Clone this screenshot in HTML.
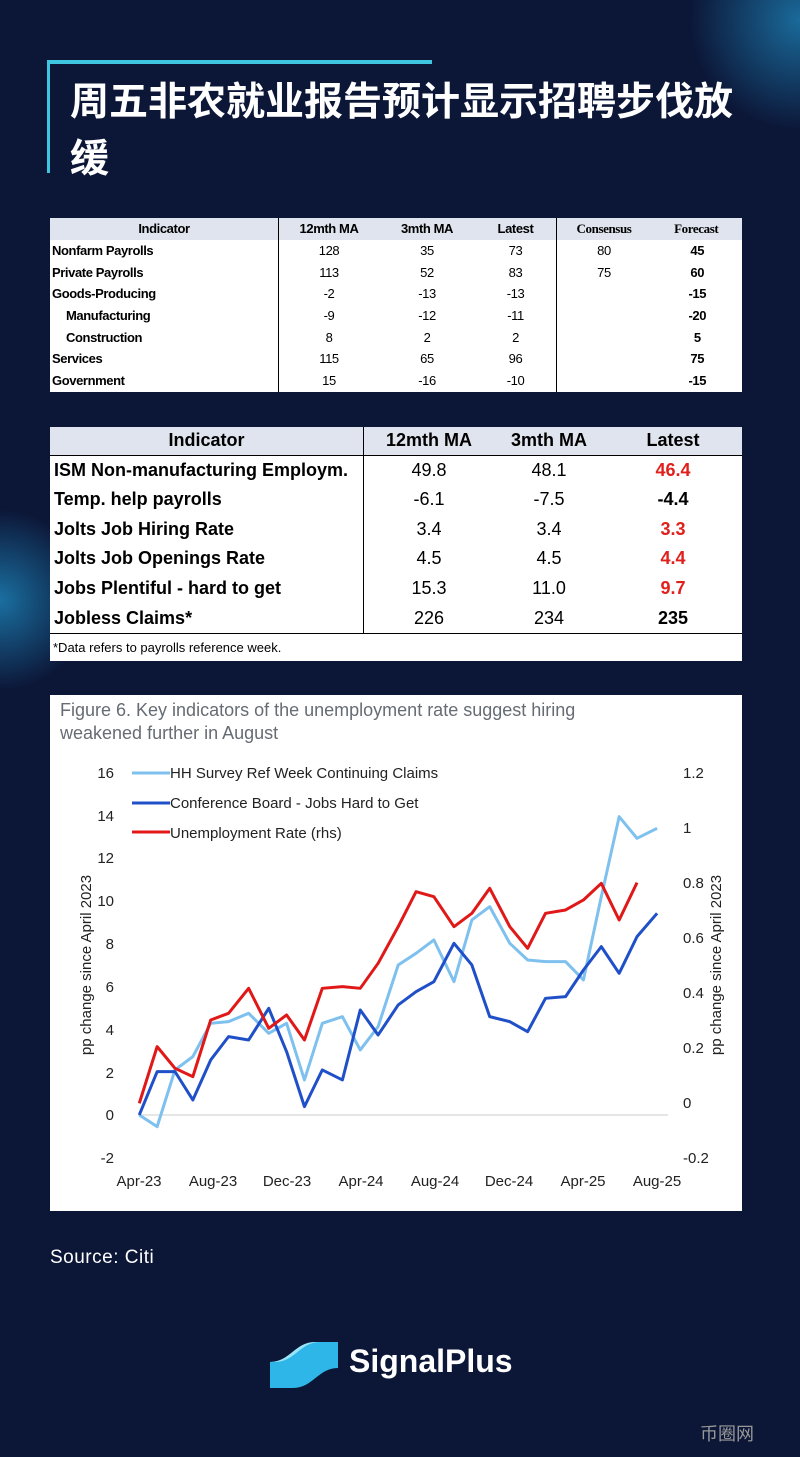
<!DOCTYPE html>
<html><head><meta charset="utf-8"><style>
body{margin:0;width:800px;height:1457px;overflow:hidden;background:radial-gradient(circle at 0px 600px,#1a6fa0 0,rgba(14,29,69,0) 90px),radial-gradient(circle at 800px 20px,#1a6a9a 0,rgba(14,29,69,0) 110px),#0c1738;font-family:"Liberation Sans","Noto Sans CJK SC",sans-serif;position:relative}
.a{position:absolute}
table{border-collapse:collapse;background:#fff;position:absolute;left:50px;width:692px;font-family:"Liberation Sans",sans-serif;color:#000}
td{padding:0;font-size:13px;font-weight:bold;white-space:nowrap}
.t1 td{height:21.7px;font-weight:normal;font-size:13px;letter-spacing:-0.4px}
.t1 td.b,.t1 tr.h td{font-weight:bold}
.t1 td.b{padding-left:2px}
.c{text-align:center}
</style></head><body>
<div class="a" style="left:48px;top:60px;width:384px;height:4px;background:#3ec6e0"></div>
<div class="a" style="left:47px;top:60px;width:3px;height:113px;background:#3ec6e0"></div>
<div class="a" style="left:70px;top:74px;color:#fff;font-size:39px;font-weight:bold;line-height:57px;width:720px;white-space:nowrap">周五非农就业报告预计显示招聘步伐放<br>缓</div>

<table class="t1" style="top:218px;height:172px">
<tr class="h" style="background:#dfe4ee"><td class="c" style="width:228px;border-right:1px solid #000">Indicator</td><td class="c" style="width:100px">12mth MA</td><td class="c" style="width:96px">3mth MA</td><td class="c" style="width:81px;border-right:1px solid #000">Latest</td><td class="c" style="width:94px;font-family:'Liberation Serif'">Consensus</td><td class="c" style="font-family:'Liberation Serif'">Forecast</td></tr>
<tr><td class="b" style="border-right:1px solid #000">Nonfarm Payrolls</td><td class="c">128</td><td class="c">35</td><td class="c" style="border-right:1px solid #000">73</td><td class="c">80</td><td class="c b">45</td></tr>
<tr><td class="b" style="border-right:1px solid #000">Private Payrolls</td><td class="c">113</td><td class="c">52</td><td class="c" style="border-right:1px solid #000">83</td><td class="c">75</td><td class="c b">60</td></tr>
<tr><td class="b" style="border-right:1px solid #000">Goods-Producing</td><td class="c">-2</td><td class="c">-13</td><td class="c" style="border-right:1px solid #000">-13</td><td></td><td class="c b">-15</td></tr>
<tr><td class="b" style="border-right:1px solid #000;padding-left:16px">Manufacturing</td><td class="c">-9</td><td class="c">-12</td><td class="c" style="border-right:1px solid #000">-11</td><td></td><td class="c b">-20</td></tr>
<tr><td class="b" style="border-right:1px solid #000;padding-left:16px">Construction</td><td class="c">8</td><td class="c">2</td><td class="c" style="border-right:1px solid #000">2</td><td></td><td class="c b">5</td></tr>
<tr><td class="b" style="border-right:1px solid #000">Services</td><td class="c">115</td><td class="c">65</td><td class="c" style="border-right:1px solid #000">96</td><td></td><td class="c b">75</td></tr>
<tr><td class="b" style="border-right:1px solid #000">Government</td><td class="c">15</td><td class="c">-16</td><td class="c" style="border-right:1px solid #000">-10</td><td></td><td class="c b">-15</td></tr>
</table>

<table style="top:427px;height:234px;font-size:18px">
<tr style="background:#dfe4ee;height:28px"><td class="c" style="width:313px;font-size:18px;border-right:1px solid #000">Indicator</td><td class="c" style="width:130px;font-size:18px">12mth MA</td><td class="c" style="width:110px;font-size:18px">3mth MA</td><td class="c" style="font-size:18px">Latest</td></tr>
<tr style="height:29.7px"><td style="font-size:18px;padding-left:4px;border-right:1px solid #000;border-top:1px solid #000">ISM Non-manufacturing Employm.</td><td class="c" style="font-size:18px;font-weight:normal;border-top:1px solid #000">49.8</td><td class="c" style="font-size:18px;font-weight:normal;border-top:1px solid #000">48.1</td><td class="c" style="font-size:18px;color:#e0201c;border-top:1px solid #000">46.4</td></tr>
<tr style="height:29.7px"><td style="font-size:18px;padding-left:4px;border-right:1px solid #000">Temp. help payrolls</td><td class="c" style="font-size:18px;font-weight:normal">-6.1</td><td class="c" style="font-size:18px;font-weight:normal">-7.5</td><td class="c" style="font-size:18px">-4.4</td></tr>
<tr style="height:29.7px"><td style="font-size:18px;padding-left:4px;border-right:1px solid #000">Jolts Job Hiring Rate</td><td class="c" style="font-size:18px;font-weight:normal">3.4</td><td class="c" style="font-size:18px;font-weight:normal">3.4</td><td class="c" style="font-size:18px;color:#e0201c">3.3</td></tr>
<tr style="height:29.7px"><td style="font-size:18px;padding-left:4px;border-right:1px solid #000">Jolts Job Openings Rate</td><td class="c" style="font-size:18px;font-weight:normal">4.5</td><td class="c" style="font-size:18px;font-weight:normal">4.5</td><td class="c" style="font-size:18px;color:#e0201c">4.4</td></tr>
<tr style="height:29.7px"><td style="font-size:18px;padding-left:4px;border-right:1px solid #000">Jobs Plentiful - hard to get</td><td class="c" style="font-size:18px;font-weight:normal">15.3</td><td class="c" style="font-size:18px;font-weight:normal">11.0</td><td class="c" style="font-size:18px;color:#e0201c">9.7</td></tr>
<tr style="height:29.7px"><td style="font-size:18px;padding-left:4px;border-right:1px solid #000">Jobless Claims*</td><td class="c" style="font-size:18px;font-weight:normal">226</td><td class="c" style="font-size:18px;font-weight:normal">234</td><td class="c" style="font-size:18px">235</td></tr>
<tr style="height:28px"><td colspan="4" style="font-size:13px;font-weight:normal;padding-left:3px;border-top:1px solid #000">*Data refers to payrolls reference week.</td></tr>
</table>

<div class="a" style="left:50px;top:695px;width:692px;height:516px;background:#fff"></div>
<div class="a" style="left:60px;top:699px;color:#666c74;font-size:18px;line-height:23px">Figure 6. Key indicators of the unemployment rate suggest hiring<br>weakened further in August</div>
<svg class="a" style="left:0;top:0" width="800" height="1457">
<g font-family="Liberation Sans" font-size="15" fill="#222">
<g text-anchor="end"><text x="114" y="778">16</text><text x="114" y="821">14</text><text x="114" y="863">12</text><text x="114" y="906">10</text><text x="114" y="949">8</text><text x="114" y="992">6</text><text x="114" y="1035">4</text><text x="114" y="1078">2</text><text x="114" y="1120">0</text><text x="114" y="1163">-2</text></g>
<text x="683" y="778">1.2</text><text x="683" y="833">1</text><text x="683" y="888">0.8</text><text x="683" y="943">0.6</text><text x="683" y="998">0.4</text><text x="683" y="1053">0.2</text><text x="683" y="1108">0</text><text x="683" y="1163">-0.2</text>
<g text-anchor="middle"><text x="139" y="1186">Apr-23</text><text x="213" y="1186">Aug-23</text><text x="287" y="1186">Dec-23</text><text x="361" y="1186">Apr-24</text><text x="435" y="1186">Aug-24</text><text x="509" y="1186">Dec-24</text><text x="583" y="1186">Apr-25</text><text x="657" y="1186">Aug-25</text></g>
<text transform="translate(91,965) rotate(-90)" text-anchor="middle">pp change since April 2023</text>
<text transform="translate(721,965) rotate(-90)" text-anchor="middle">pp change since April 2023</text>
<line x1="132" y1="773" x2="170" y2="773" stroke="#7ec0ee" stroke-width="3"/>
<line x1="132" y1="803" x2="170" y2="803" stroke="#2050c8" stroke-width="3"/>
<line x1="132" y1="832" x2="170" y2="832" stroke="#e01818" stroke-width="3"/>
<text x="170" y="778">HH Survey Ref Week Continuing Claims</text>
<text x="170" y="808">Conference Board - Jobs Hard to Get</text>
<text x="170" y="838">Unemployment Rate (rhs)</text>
</g>
<line x1="138" y1="1115" x2="668" y2="1115" stroke="#ddd" stroke-width="1.5"/>
<g transform="translate(50,750) scale(0.4464,0.3333)" fill="none" stroke-width="3" stroke-linejoin="round">
<polyline vector-effect="non-scaling-stroke" stroke="#7ec0ee" points="200,1095 240,1130 280,960 320,920 360,820 400,815 445,790 490,850 530,820 570,990 610,820 655,800 695,900 735,830 780,645 820,610 860,570 905,695 945,510 985,470 1030,580 1070,630 1110,635 1155,635 1195,690 1235,440 1275,200 1315,265 1360,235"/>
<polyline vector-effect="non-scaling-stroke" stroke="#2050c8" points="200,1095 240,965 280,965 320,1050 360,930 400,860 445,870 490,775 530,905 570,1070 610,960 655,990 695,780 735,855 780,765 820,725 860,695 905,580 945,645 985,800 1030,815 1070,845 1110,745 1155,740 1195,660 1235,590 1275,670 1315,560 1360,490"/>
<polyline vector-effect="non-scaling-stroke" stroke="#e01818" points="200,1060 240,890 280,955 320,980 360,810 400,790 445,715 490,835 530,795 570,870 610,715 655,710 695,715 735,640 780,530 820,425 860,440 905,530 945,490 985,415 1030,530 1070,595 1110,490 1155,480 1195,450 1235,400 1275,510 1315,398"/>
</g>
<g transform="translate(270,1340)">
<path d="M0,22 C20,22 25,2 45,2 L68,2 L68,28 C48,28 43,48 23,48 L0,48 Z" fill="#2fb6e8"/>
<path d="M0,22 C20,22 25,2 45,2 L50,2 C30,2 25,22 5,22 Z" fill="#9be3f6"/>
</g>
</svg>
<div class="a" style="left:50px;top:1247px;color:#fff;font-size:19px;letter-spacing:.5px">Source: Citi</div>
<div class="a" style="left:349px;top:1343px;color:#fff;font-size:32px;font-weight:bold">SignalPlus</div>
<div class="a" style="left:700px;top:1420px;color:#999;font-size:18px">币圈网</div>
</body></html>
